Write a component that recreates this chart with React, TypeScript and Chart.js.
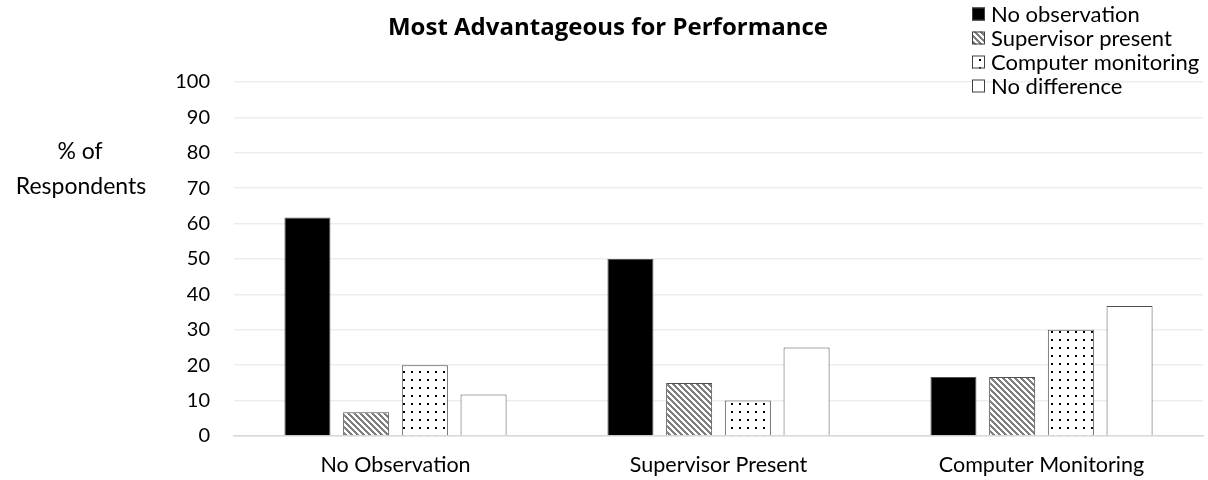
import React, { useEffect, useRef } from "react";
import { Chart, registerables } from "chart.js";

Chart.register(...registerables);

const categories = ["No Observation", "Supervisor Present", "Computer Monitoring"];
const seriesNames = ["No observation", "Supervisor present", "Computer monitoring", "No difference"];
const noObservation = [61.7, 50, 16.7];
const supervisorPresent = [6.7, 15, 16.7];
const computerMonitoring = [20, 10, 30];
const noDifference = [11.7, 25, 36.7];
const yTicks = [0, 10, 20, 30, 40, 50, 60, 70, 80, 90, 100];
const titleText = "Most Advantageous for Performance";
const yTitleLines = ["% of", "Respondents"];

const FONT = "Lato, 'Open Sans', sans-serif";
const TITLE_FONT = "'Open Sans', Lato, sans-serif";

function makeHatch(): CanvasPattern | string {
  const c = document.createElement("canvas");
  const n = 6;
  c.width = n;
  c.height = n;
  const ctx = c.getContext("2d")!;
  ctx.fillStyle = "#ffffff";
  ctx.fillRect(0, 0, n, n);
  ctx.fillStyle = "#7f7f7f";
  for (let y = 0; y < n; y++) {
    for (let x = 0; x < n; x++) {
      const d = (((x - y) % n) + n) % n;
      if (d < 3) ctx.fillRect(x, y, 1, 1);
    }
  }
  return ctx.createPattern(c, "repeat") || "#aaaaaa";
}

function makeDots(): CanvasPattern | string {
  const c = document.createElement("canvas");
  const n = 8;
  c.width = n;
  c.height = n;
  const ctx = c.getContext("2d")!;
  ctx.fillStyle = "#ffffff";
  ctx.fillRect(0, 0, n, n);
  ctx.fillStyle = "#000000";
  ctx.fillRect(3, 3, 2, 2);
  return ctx.createPattern(c, "repeat") || "#eeeeee";
}

export default function App() {
  const ref = useRef<HTMLCanvasElement | null>(null);

  useEffect(() => {
    if (!ref.current) return;
    const hatch = makeHatch();
    const dots = makeDots();
    const fills: (string | CanvasPattern)[] = ["#000000", hatch, dots, "#ffffff"];
    const values = [noObservation, supervisorPresent, computerMonitoring, noDifference];

    const overlay = {
      id: "overlay",
      afterDraw(chart: any) {
        const ctx = chart.ctx as CanvasRenderingContext2D;
        ctx.save();
        // title
        ctx.fillStyle = "#000";
        ctx.font = `bold 24px ${TITLE_FONT}`;
        ctx.textAlign = "center";
        ctx.textBaseline = "middle";
        ctx.fillText(titleText, 608, 28);
        // y title
        ctx.font = `23px ${FONT}`;
        ctx.fillText(yTitleLines[0], 80, 152);
        ctx.fillText(yTitleLines[1], 81, 187);
        // legend
        const boxX = 972;
        const box = 13;
        ctx.font = `22px ${FONT}`;
        ctx.textAlign = "left";
        seriesNames.forEach((name, i) => {
          const cy = 14 + i * 24;
          ctx.fillStyle = fills[i] as any;
          ctx.fillRect(boxX, cy - box / 2, box, box);
          ctx.strokeStyle = "#404040";
          ctx.lineWidth = 1;
          ctx.strokeRect(boxX + 0.5, cy - box / 2 + 0.5, box - 1, box - 1);
          ctx.fillStyle = "#000";
          ctx.fillText(name, 991, cy + 1);
        });
        ctx.restore();
      },
    };

    const chart = new Chart(ref.current, {
      type: "bar",
      data: {
        labels: categories,
        datasets: seriesNames.map((name, i) => ({
          label: name,
          data: values[i],
          backgroundColor: fills[i] as any,
          borderColor: "#505050",
          borderWidth: 1,
          categoryPercentage: 0.727,
          barPercentage: 0.784,
        })),
      },
      options: {
        responsive: false,
        animation: false,
        devicePixelRatio: 1,
        layout: { padding: { top: 82, right: 5, left: 0, bottom: 0 } },
        plugins: {
          legend: { display: false },
          title: { display: false },
          tooltip: { enabled: false },
        },
        scales: {
          x: {
            grid: { display: false, drawTicks: false },
            border: { display: true, color: "#d9d9d9", width: 1.5 },
            ticks: { color: "#000", font: { family: FONT, size: 21.5 }, padding: 16 },
            afterFit(scale: any) {
              scale.height = 44;
            },
          },
          y: {
            min: 0,
            max: 100,
            afterBuildTicks(scale: any) {
              scale.ticks = yTicks.map((v) => ({ value: v }));
            },
            grid: { color: "#ededed", lineWidth: 1.5, drawTicks: false },
            border: { display: false },
            ticks: { color: "#000", font: { family: FONT, size: 20 }, padding: 24 },
            afterFit(scale: any) {
              scale.width = 234;
            },
          },
        },
      },
      plugins: [overlay],
    });
    return () => chart.destroy();
  }, []);

  return (
    <div style={{ position: "absolute", left: 0, top: 0, width: 1208, height: 480, background: "#fff" }}>
      <canvas ref={ref} width={1208} height={480} style={{ display: "block", width: 1208, height: 480 }} />
    </div>
  );
}
